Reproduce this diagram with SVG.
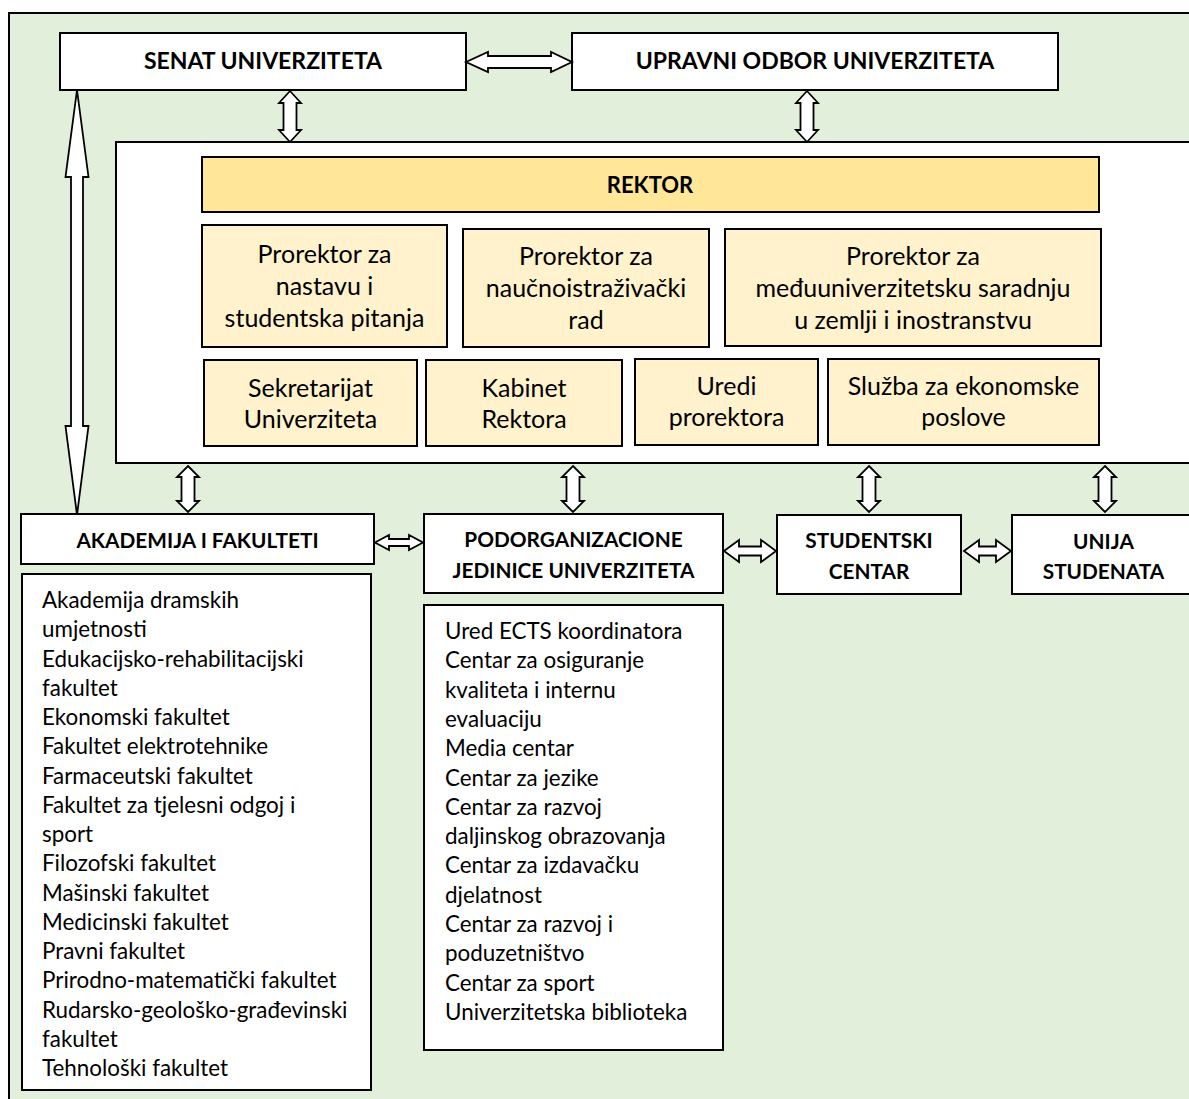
<svg xmlns="http://www.w3.org/2000/svg" width="1189" height="1099" viewBox="0 0 1189 1099">
<style>
.box{fill:#ffffff;stroke:#000;stroke-width:2}
.rek{fill:#FFE699;stroke:#000;stroke-width:2}
.sub{fill:#FFF2CC;stroke:#000;stroke-width:2}
.arr{fill:#ffffff;stroke:#000;stroke-width:1.8;stroke-linejoin:miter}
.t{font-family:Lato,"Liberation Sans",sans-serif;fill:#000}
.tb{font-family:Lato,"Liberation Sans",sans-serif;font-weight:bold;fill:#000;text-anchor:middle}
.h1{font-size:23px}
.h0{font-size:22px}
.h2{font-size:20.8px}
.p{font-size:25px;text-anchor:middle}
.l{font-size:22.4px}
</style>
<rect x="9" y="13" width="1190" height="1100" fill="#E2EFDA" stroke="#000" stroke-width="2"/>
<g id="panel"><rect x="116" y="142" width="1090" height="321" class="box"/></g>
<g id="senat"><rect x="60" y="33" width="406" height="57" class="box"/><text x="263" y="69" class="tb h1">SENAT UNIVERZITETA</text></g>
<g id="upravni"><rect x="572" y="33" width="486" height="57" class="box"/><text x="815" y="69" class="tb h1">UPRAVNI ODBOR UNIVERZITETA</text></g>
<g id="rektor"><rect x="202" y="157" width="897" height="55" class="rek"/><text x="650" y="193" class="tb h0">REKTOR</text></g>
<g id="prorektor1"><rect x="202" y="225" width="245" height="122" class="sub"/><text class="t p" x="324.5" y="263">Prorektor za</text><text class="t p" x="324.5" y="295">nastavu i</text><text class="t p" x="324.5" y="327">studentska pitanja</text></g>
<g id="prorektor2"><rect x="463" y="229" width="246" height="118" class="sub"/><text class="t p" x="586" y="265">Prorektor za</text><text class="t p" x="586" y="297">naučnoistraživački</text><text class="t p" x="586" y="329">rad</text></g>
<g id="prorektor3"><rect x="725" y="229" width="376" height="117" class="sub"/><text class="t p" x="913" y="265">Prorektor za</text><text class="t p" x="913" y="297">međuuniverzitetsku saradnju</text><text class="t p" x="913" y="329">u zemlji i inostranstvu</text></g>
<g id="sekretarijat"><rect x="204" y="360" width="213" height="86" class="sub"/><text class="t p" x="310.5" y="397">Sekretarijat</text><text class="t p" x="310.5" y="428">Univerziteta</text></g>
<g id="kabinet"><rect x="426" y="360" width="196" height="86" class="sub"/><text class="t p" x="524" y="397">Kabinet</text><text class="t p" x="524" y="428">Rektora</text></g>
<g id="uredi"><rect x="635" y="359" width="183" height="86" class="sub"/><text class="t p" x="726.5" y="395">Uredi</text><text class="t p" x="726.5" y="426">prorektora</text></g>
<g id="sluzba"><rect x="828" y="359" width="271" height="86" class="sub"/><text class="t p" x="963.5" y="395">Služba za ekonomske</text><text class="t p" x="963.5" y="426">poslove</text></g>
<g id="akademija"><rect x="21" y="514" width="353" height="50" class="box"/><text x="197.5" y="548" class="tb h2">AKADEMIJA I FAKULTETI</text></g>
<g id="podorg"><rect x="424" y="514" width="299" height="79" class="box"/><text x="573.5" y="547" class="tb h2">PODORGANIZACIONE</text><text x="573.5" y="578" class="tb h2">JEDINICE UNIVERZITETA</text></g>
<g id="studentski"><rect x="777" y="515" width="184" height="79" class="box"/><text x="869" y="548" class="tb h2">STUDENTSKI</text><text x="869" y="579" class="tb h2">CENTAR</text></g>
<g id="unija"><rect x="1012" y="515" width="190" height="79" class="box"/><text x="1103.5" y="549" class="tb h2">UNIJA</text><text x="1103.5" y="579" class="tb h2">STUDENATA</text></g>
<g id="akademija-list"><rect x="22" y="574" width="349" height="516" class="box"/>
<g class="t l">
<text x="42" y="608">Akademija dramskih</text>
<text x="42" y="637.25">umjetnosti</text>
<text x="42" y="666.5">Edukacijsko-rehabilitacijski</text>
<text x="42" y="695.75">fakultet</text>
<text x="42" y="725">Ekonomski fakultet</text>
<text x="42" y="754.25">Fakultet elektrotehnike</text>
<text x="42" y="783.5">Farmaceutski fakultet</text>
<text x="42" y="812.75">Fakultet za tjelesni odgoj i</text>
<text x="42" y="842">sport</text>
<text x="42" y="871.25">Filozofski fakultet</text>
<text x="42" y="900.5">Mašinski fakultet</text>
<text x="42" y="929.75">Medicinski fakultet</text>
<text x="42" y="959">Pravni fakultet</text>
<text x="42" y="988.25">Prirodno-matematički fakultet</text>
<text x="42" y="1017.5">Rudarsko-geološko-građevinski</text>
<text x="42" y="1046.75">fakultet</text>
<text x="42" y="1076">Tehnološki fakultet</text>
</g></g>
<g id="podorg-list"><rect x="424" y="605" width="299" height="445" class="box"/>
<g class="t l">
<text x="445" y="639">Ured ECTS koordinatora</text>
<text x="445" y="668.3">Centar za osiguranje</text>
<text x="445" y="697.6">kvaliteta i internu</text>
<text x="445" y="726.9">evaluaciju</text>
<text x="445" y="756.2">Media centar</text>
<text x="445" y="785.5">Centar za jezike</text>
<text x="445" y="814.8">Centar za razvoj</text>
<text x="445" y="844.1">daljinskog obrazovanja</text>
<text x="445" y="873.4">Centar za izdavačku</text>
<text x="445" y="902.7">djelatnost</text>
<text x="445" y="932">Centar za razvoj i</text>
<text x="445" y="961.3">poduzetništvo</text>
<text x="445" y="990.6">Centar za sport</text>
<text x="445" y="1019.9">Univerzitetska biblioteka</text>
</g></g>
<g id="connectors">
<polygon class="arr" points="466,62 488,52 488,56 551,56 551,52 572,62 551,72 551,68 488,68 488,72"/>
<polygon class="arr" points="290,91 301,103 296.5,103 296.5,130 301,130 290,142 279,130 283.5,130 283.5,103 279,103"/>
<polygon class="arr" points="807,91 818,103 813.5,103 813.5,130 818,130 807,142 796,130 800.5,130 800.5,103 796,103"/>
<polygon class="arr" points="77,90 88.5,177 83,177 83,426 88.5,426 77,515 65.5,426 71,426 71,177 65.5,177"/>
<polygon class="arr" points="188,466 199,477 194.5,477 194.5,501 199,501 188,512 177,501 181.5,501 181.5,477 177,477"/>
<polygon class="arr" points="573,466 584,477 579.5,477 579.5,501 584,501 573,512 562,501 566.5,501 566.5,477 562,477"/>
<polygon class="arr" points="869,466 880,477 875.5,477 875.5,501 880,501 869,512 858,501 862.5,501 862.5,477 858,477"/>
<polygon class="arr" points="1105,466 1116,477 1111.5,477 1111.5,501 1116,501 1105,512 1094,501 1098.5,501 1098.5,477 1094,477"/>
<polygon class="arr" points="375,542.5 389,535 389,539 409,539 409,535 423,542.5 409,550 409,546 389,546 389,550"/>
<polygon class="arr" points="724,551 739,540 739,546.5 761,546.5 761,540 776,551 761,562 761,555.5 739,555.5 739,562"/>
<polygon class="arr" points="964,551 979,540 979,546.5 996,546.5 996,540 1011,551 996,562 996,555.5 979,555.5 979,562"/>
</g>
</svg>
